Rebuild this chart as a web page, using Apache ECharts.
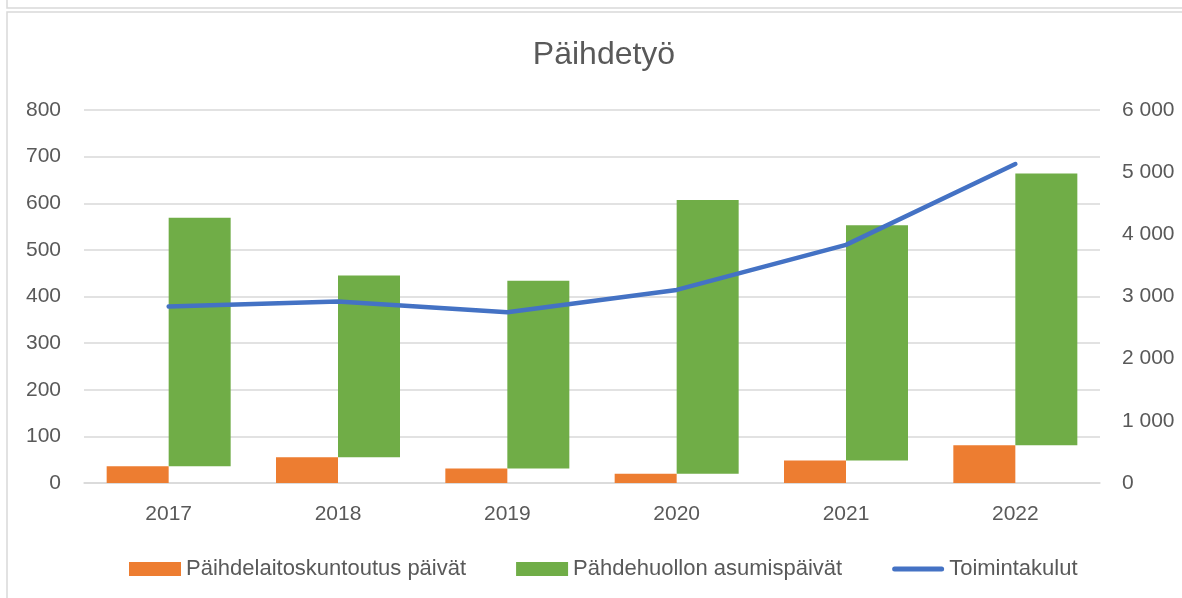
<!DOCTYPE html>
<html>
<head>
<meta charset="utf-8">
<script src="https://cdn.jsdelivr.net/npm/echarts@6/dist/echarts.min.js"></script>
<style>
html, body { margin: 0; padding: 0; background: #fff; }
#chart { width: 1182px; height: 598px; }
</style>
</head>
<body>
<div id="chart"></div>
<script>
// data
var years = ['2017', '2018', '2019', '2020', '2021', '2022']
var laitosPaivat = [36, 55, 31, 20, 48, 81]
var asumisPaivat = [533, 390, 403, 587, 505, 583]
var toimintakulut = [2839, 2918, 2748, 3106, 3830, 5131]

var textColor = '#595959'
var gridColor = '#D9D9D9'
var font = 'Liberation Sans'

function thousands(v) {
    return String(v).replace(/\B(?=(\d{3})+(?!\d))/g, ' ')
}

var myChart = echarts.init(document.getElementById('chart'))
var options = {
    animation: false,
    textStyle: { fontFamily: font },
    title: {
        text: 'Päihdetyö',
        left: 599,
        textAlign: 'center',
        top: 34,
        textStyle: { color: textColor, fontSize: 32, fontWeight: 'normal', fontFamily: font }
    },
    graphic: [
        {
            type: 'rect',
            shape: { x: 7, y: -20, width: 1200, height: 28 },
            style: { fill: 'none', stroke: gridColor, lineWidth: 1.5 }
        },
        {
            type: 'rect',
            shape: { x: 7, y: 12, width: 1200, height: 620 },
            style: { fill: 'none', stroke: gridColor, lineWidth: 1.5 }
        }
    ],
    grid: {
        left: 84,
        right: 82,
        top: 110,
        bottom: 115
    },
    legend: {
        left: 124,
        top: 553,
        itemWidth: 52,
        itemHeight: 14,
        itemGap: 50,
        textStyle: { color: textColor, fontSize: 22, fontFamily: font },
        data: [
            { name: 'Päihdelaitoskuntoutus päivät', icon: 'rect' },
            { name: 'Pähdehuollon asumispäivät', icon: 'rect' },
            { name: 'Toimintakulut', icon: 'path://M2.5,0 L49.5,0 A2.5,2.5 0 0 1 49.5,5 L2.5,5 A2.5,2.5 0 0 1 2.5,0 Z' }
        ]
    },
    xAxis: {
        type: 'category',
        data: years,
        axisLine: { lineStyle: { color: gridColor, width: 1.5 } },
        axisTick: { show: false },
        axisLabel: { color: textColor, fontSize: 21, margin: 21 }
    },
    yAxis: [
        {
            type: 'value',
            min: 0,
            max: 800,
            interval: 100,
            axisLine: { show: false },
            axisTick: { show: false },
            splitLine: { lineStyle: { color: gridColor, width: 1.5 } },
            axisLabel: { color: textColor, fontSize: 21, margin: 23 }
        },
        {
            type: 'value',
            min: 0,
            max: 6000,
            interval: 1000,
            axisLine: { show: false },
            axisTick: { show: false },
            splitLine: { show: false },
            axisLabel: { color: textColor, fontSize: 21, margin: 22, formatter: thousands }
        }
    ],
    series: [
        {
            name: 'Päihdelaitoskuntoutus päivät',
            type: 'bar',
            barWidth: 62,
            barGap: '0%',
            data: laitosPaivat,
            itemStyle: { color: '#ED7D31' }
        },
        {
            name: 'pohja',
            type: 'bar',
            stack: 'asuminen',
            barWidth: 62,
            data: laitosPaivat,
            silent: true,
            itemStyle: { color: 'rgba(0,0,0,0)' }
        },
        {
            name: 'Pähdehuollon asumispäivät',
            type: 'bar',
            stack: 'asuminen',
            barWidth: 62,
            data: asumisPaivat,
            itemStyle: { color: '#70AD47' }
        },
        {
            name: 'Toimintakulut',
            type: 'line',
            yAxisIndex: 1,
            data: toimintakulut,
            symbol: 'none',
            lineStyle: { color: '#4472C4', width: 4.5, cap: 'round', join: 'round' },
            itemStyle: { color: '#4472C4' }
        }
    ]
}
myChart.setOption(options)
</script>
</body>
</html>
